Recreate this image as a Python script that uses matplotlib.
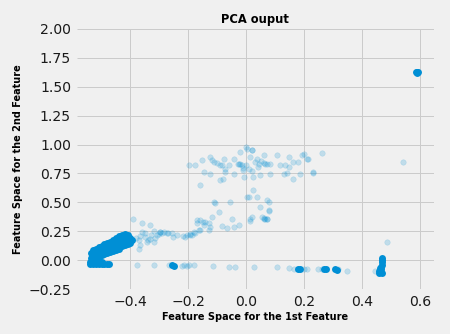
import matplotlib
matplotlib.use("Agg")
import matplotlib.pyplot as plt

plt.style.use("fivethirtyeight")

# ---- data ----
# sparse / semi-transparent points
light_x = [
    # upper cloud
    -0.199, -0.176, -0.153, -0.124, -0.113, -0.078, -0.084, -0.061, -0.044, -0.021,
    -0.026, -0.015, 0.002, 0.020, 0.014, 0.037, 0.043, 0.060, 0.071, 0.083,
    0.106, 0.117, 0.134, 0.146, 0.163, 0.180, 0.198, 0.209, 0.232, -0.159,
    -0.124, -0.090, -0.072, -0.044, -0.009, 0.025, 0.048, 0.083, 0.129, 0.163,
    0.186, 0.025, 0.037, 0.002, 0.071, 0.048, 0.077, 0.060, 0.071, 0.014,
    -0.113, -0.055, -0.095, 0.261, 0.230, -0.147, -0.090, -0.072, 0.192, 0.215,
    0.146, 0.000, 0.020, -0.020, 0.000, 0.030, 0.050, 0.060, -0.010, 0.040,
    0.065, -0.030, 0.010, -0.120, -0.100, -0.010, -0.080, 0.140, 0.020,
    # middle strip
    -0.107, 0.008, 0.077, 0.077, 0.054, 0.020, 0.014, -0.118, -0.141, -0.159,
    -0.170, -0.130, -0.124, -0.084, -0.067, -0.044, -0.026, -0.049, -0.182, -0.193,
    -0.205, -0.164, -0.147, -0.130, 0.065, 0.060, 0.070,
    # lower-left halo
    -0.390, -0.359, -0.334, -0.372, -0.341, -0.314, -0.272, -0.252, -0.210, -0.186,
    -0.169, -0.148, -0.159, -0.366, -0.343, -0.320, -0.349, -0.331, -0.308, -0.297,
    -0.297, -0.290, -0.300, -0.285, -0.274, -0.256, -0.193, -0.176, -0.366, -0.380,
    -0.360, -0.370, -0.350, -0.330, -0.320, -0.240, -0.220,
    # bottom row
    -0.377, -0.320, -0.268, -0.216, -0.199, -0.182, -0.222, -0.205, -0.115, -0.061,
    -0.038, 0.028, 0.106, 0.146, 0.209, 0.249, 0.260, 0.318, 0.347, 0.445,
    0.165, 0.200,
    # right side
    0.540, 0.485,
]
light_y = [
    # upper cloud
    0.821, 0.821, 0.870, 0.893, 0.850, 0.879, 0.821, 0.821, 0.879, 0.937,
    0.836, 0.821, 0.965, 0.951, 0.893, 0.879, 0.836, 0.908, 0.836, 0.836,
    0.908, 0.821, 0.821, 0.807, 0.850, 0.850, 0.922, 0.879, 0.764, 0.648,
    0.749, 0.692, 0.764, 0.749, 0.720, 0.720, 0.735, 0.749, 0.749, 0.706,
    0.749, 0.605, 0.548, 0.548, 0.519, 0.461, 0.432, 0.360, 0.360, 0.360,
    0.504, 0.504, 0.418, 0.928, 0.755, 0.764, 0.821, 0.792, 0.908, 0.879,
    0.893, 0.980, 0.957, 0.830, 0.820, 0.850, 0.860, 0.840, 0.800, 0.810,
    0.830, 0.830, 0.790, 0.870, 0.840, 0.780, 0.700, 0.750, 0.770,
    # middle strip
    0.490, 0.548, 0.504, 0.427, 0.375, 0.375, 0.340, 0.375, 0.331, 0.346,
    0.317, 0.317, 0.288, 0.294, 0.282, 0.288, 0.303, 0.352, 0.245, 0.225,
    0.216, 0.259, 0.303, 0.259, 0.360, 0.365, 0.355,
    # lower-left halo
    0.355, 0.320, 0.300, 0.100, 0.173, 0.190, 0.234, 0.200, 0.200, 0.216,
    0.346, 0.330, 0.260, 0.130, 0.159, 0.159, 0.231, 0.187, 0.216, 0.245,
    0.240, 0.235, 0.230, 0.245, 0.231, 0.231, 0.216, 0.231, 0.210, 0.190,
    0.240, 0.170, 0.200, 0.220, 0.250, 0.220, 0.210,
    # bottom row
    -0.043, -0.043, -0.043, -0.045, -0.045, -0.045, -0.050, -0.050, -0.052, -0.058,
    -0.058, -0.063, -0.058, -0.072, -0.078, -0.078, -0.080, -0.080, -0.090, -0.092,
    -0.075, -0.076,
    # right side
    0.847, 0.161,
]

# heavily over-plotted (saturated) points
dense_x = [
    # main lower-left blob
    -0.535, -0.535, -0.530, -0.520, -0.520, -0.520, -0.510, -0.510, -0.510, -0.500,
    -0.500, -0.500, -0.490, -0.490, -0.490, -0.480, -0.480, -0.480, -0.470, -0.470,
    -0.470, -0.460, -0.460, -0.460, -0.450, -0.450, -0.450, -0.440, -0.440, -0.440,
    -0.430, -0.430, -0.430, -0.420, -0.420, -0.420, -0.410, -0.410, -0.410, -0.400,
    -0.400, -0.395,
    # bottom strip of the blob
    -0.540, -0.530, -0.520, -0.510, -0.500, -0.490, -0.480, -0.475, -0.540, -0.500,
    # top-right outlier
    0.588, 0.592, 0.590, 0.590,
    # right vertical cluster
    0.470, 0.470, 0.468, 0.468, 0.466, 0.466, 0.464, 0.460, 0.458, 0.462, 0.470,
    # bottom row clumps
    -0.256, -0.250, 0.178, 0.186, 0.268, 0.274, 0.305, 0.313,
]
dense_y = [
    # main lower-left blob
    0.020, 0.060, 0.090, 0.010, 0.050, 0.100, 0.030, 0.070, 0.110, 0.040,
    0.080, 0.120, 0.050, 0.090, 0.140, 0.060, 0.100, 0.150, 0.070, 0.110,
    0.160, 0.080, 0.120, 0.170, 0.090, 0.140, 0.190, 0.100, 0.150, 0.210,
    0.120, 0.170, 0.220, 0.130, 0.180, 0.230, 0.140, 0.190, 0.220, 0.150,
    0.190, 0.170,
    # bottom strip of the blob
    -0.030, -0.035, -0.030, -0.035, -0.030, -0.035, -0.030, -0.035, -0.020, -0.020,
    # top-right outlier
    1.625, 1.625, 1.620, 1.630,
    # right vertical cluster
    0.020, 0.000, -0.020, -0.040, -0.060, -0.080, -0.100, -0.110, -0.090, -0.070, -0.110,
    # bottom row clumps
    -0.045, -0.050, -0.075, -0.078, -0.080, -0.080, -0.080, -0.082,
]

x_ticks = [-0.4, -0.2, 0.0, 0.2, 0.4, 0.6]
y_ticks = [-0.25, 0.0, 0.25, 0.5, 0.75, 1.0, 1.25, 1.5, 1.75, 2.0]

# ---- figure ----
fig = plt.figure(figsize=(450 / 72, 334 / 72), dpi=72, facecolor="#f0f0f0")
ax = fig.add_axes([0.171, 0.1347, 0.793, 0.7785])
ax.set_facecolor("#f0f0f0")

color = "#008fd5"
ax.scatter(light_x, light_y, s=30, color=color, alpha=0.2, zorder=3)
ax.scatter(dense_x, dense_y, s=48, color=color, alpha=1.0, linewidths=0, zorder=3)

ax.set_xlim(-0.585, 0.648)
ax.set_ylim(-0.25, 2.0)
ax.set_xticks(x_ticks)
ax.set_yticks(y_ticks)
ax.set_xticklabels(["\u22120.4", "\u22120.2", "0.0", "0.2", "0.4", "0.6"])
ax.set_yticklabels(["\u22120.25", "0.00", "0.25", "0.50", "0.75", "1.00",
                    "1.25", "1.50", "1.75", "2.00"])
ax.tick_params(axis="both", labelsize=14, colors="#1a1a1a", length=0, pad=6)
ax.grid(True, color="#cbcbcb", linewidth=1.0)
for sp in ax.spines.values():
    sp.set_visible(False)

ax.set_title("PCA ouput", fontsize=11.5, fontweight="bold", pad=6)
ax.set_xlabel("Feature Space for the 1st Feature", fontsize=9.7, fontweight="bold",
              labelpad=3)
ax.set_ylabel("Feature Space for the 2nd Feature", fontsize=9.7, fontweight="bold",
              labelpad=5)

fig.savefig("out.png", dpi=72, facecolor="#f0f0f0")
